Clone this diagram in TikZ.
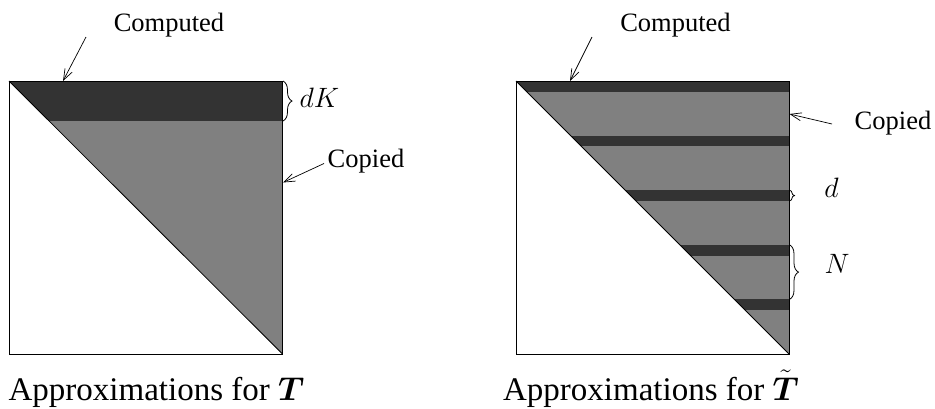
\RequirePackage{fix-cm}
\documentclass[tikz,border=0pt]{standalone}
\usepackage{amsmath}
\usepackage{fontspec}
\setmainfont{Liberation Serif}
\usetikzlibrary{arrows.meta,decorations.pathreplacing}
\definecolor{darkfill}{HTML}{333333}
\definecolor{midfill}{HTML}{808080}
\begin{document}
\begin{tikzpicture}[x=1pt,y=-1pt,
  lbl/.style={font=\fontsize{26.5}{30}\selectfont, inner sep=0pt},
  captext/.style={font=\fontsize{33}{38}\selectfont, inner sep=0pt},
  mlbl/.style={font=\fontsize{28}{32}\selectfont, inner sep=0pt},
  ptr/.style={line width=0.7pt, -{Straight Barb[length=11pt,width=8pt]}},
  brc/.style={line width=0.8pt, decorate, decoration={brace, amplitude=#1}},
  brc/.default=9pt,
  edgeline/.style={line width=0.8pt}]
\useasboundingbox (0,0) rectangle (935,408);

% ---------- left square ----------
\fill[darkfill] (9,81) -- (282.5,81) -- (282.5,121) -- (49,121) -- cycle;
\fill[midfill] (49,121) -- (282.5,121) -- (282.5,354) -- cycle;
\draw[edgeline] (9,81) rectangle (282.5,354);
\draw[edgeline] (9,81) -- (282.5,354);

\node[lbl, anchor=base] (compL) at (169,31.5) {Computed};
\coordinate (compLs) at (86,37);
\coordinate (compLe) at (63,81);
\draw[ptr] (compLs) -- (compLe);

\node[lbl, anchor=base] (copL) at (366,167) {Copied};
\coordinate (copLs) at (324,163.5);
\coordinate (copLe) at (283,182.5);
\draw[ptr] (copLs) -- (copLe);

\coordinate (dKa) at (283,81);
\coordinate (dKb) at (283,121);
\draw[brc] (dKa) -- (dKb);
\node[mlbl, anchor=base] (dK) at (319.5,107) {$dK$};

\node[captext, anchor=base] (capL) at (156.5,400) {Approximations for $\boldsymbol{T}$};

% ---------- right square ----------
\begin{scope}
  \clip (516,81) -- (789,81) -- (789,354) -- cycle;
  \fill[midfill] (516,81) rectangle (789,354);
  \foreach \k in {0,...,4}
    \fill[darkfill] (516,81+\k*54.6) rectangle (789,81+\k*54.6+10.7);
\end{scope}
\draw[edgeline] (516,81) rectangle (789,354);
\draw[edgeline] (516,81) -- (789,354);

\node[lbl, anchor=base] (compR) at (675.5,31.5) {Computed};
\coordinate (compRs) at (592,37);
\coordinate (compRe) at (570,81);
\draw[ptr] (compRs) -- (compRe);

\node[lbl, anchor=base] (copR) at (893,129) {Copied};
\coordinate (copRs) at (832,124);
\coordinate (copRe) at (789.5,114);
\draw[ptr] (copRs) -- (copRe);

\coordinate (da) at (789.5,190.2);
\coordinate (db) at (789.5,200.9);
\draw[brc=5pt] (da) -- (db);
\node[mlbl, anchor=base] (dlab) at (831.5,197) {$d$};

\coordinate (Na) at (789.5,244.8);
\coordinate (Nb) at (789.5,299.4);
\draw[brc] (Na) -- (Nb);
\node[mlbl, anchor=base] (Nlab) at (837,273) {$N$};

\node[captext, anchor=base] (capR) at (651,400) {Approximations for $\tilde{\boldsymbol{T}}$};
\end{tikzpicture}
\end{document}
